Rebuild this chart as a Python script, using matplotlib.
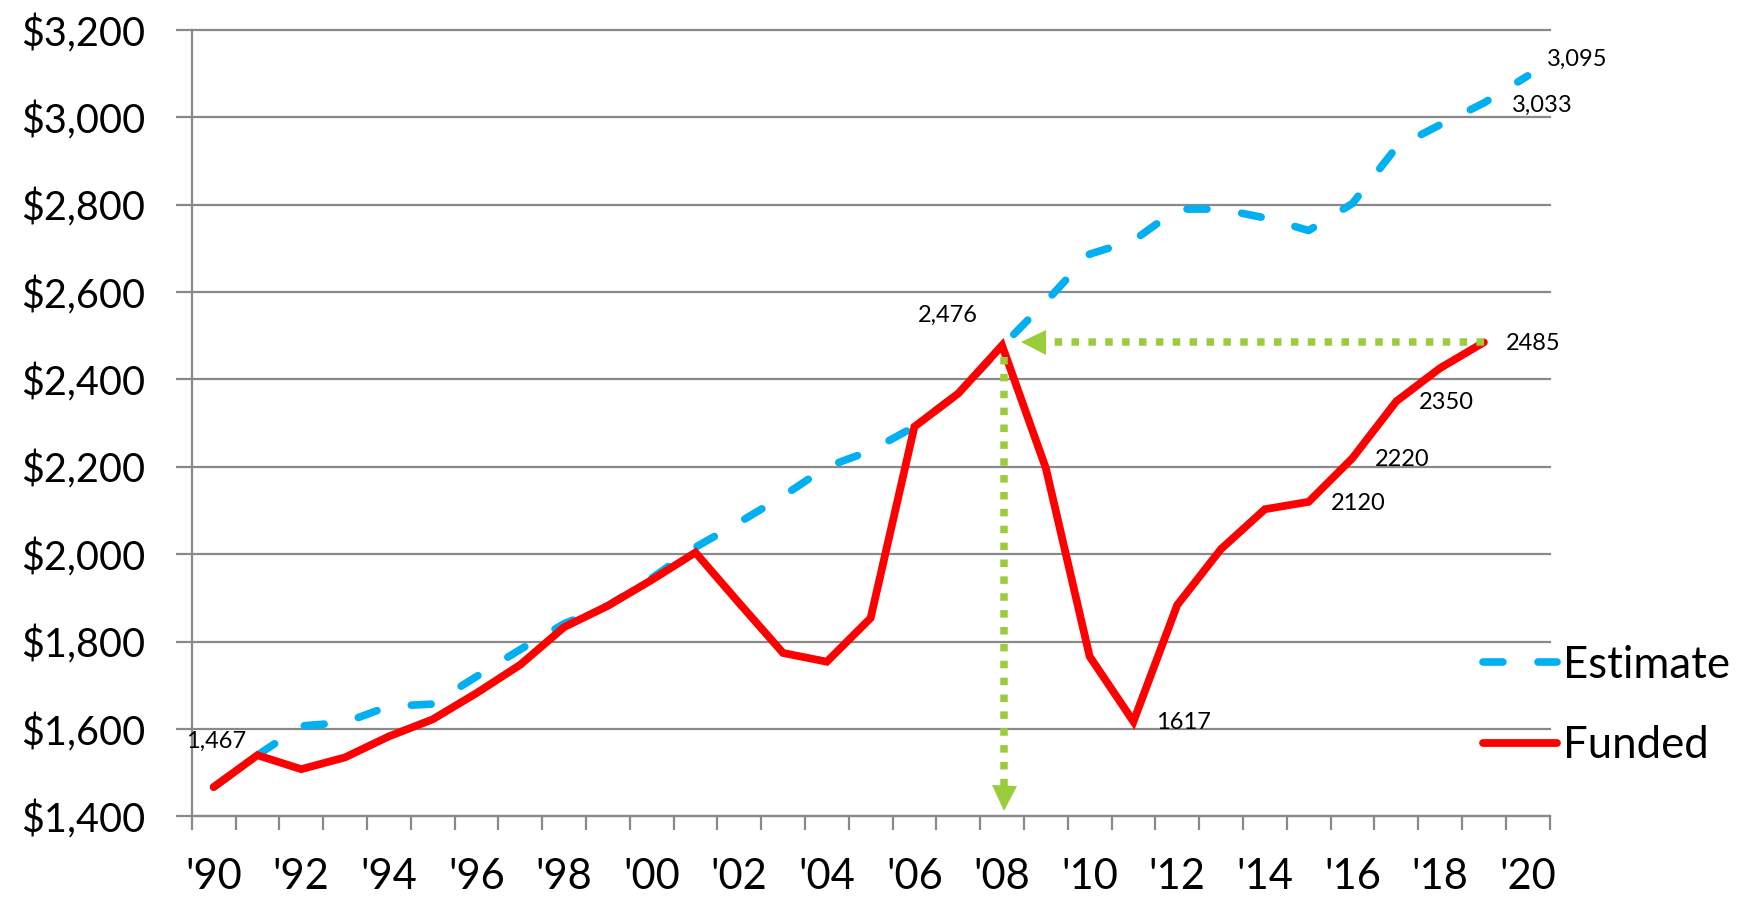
import matplotlib
matplotlib.use('Agg')
import matplotlib.pyplot as plt
from matplotlib.ticker import FuncFormatter
from matplotlib.transforms import offset_copy

plt.rcParams['font.family'] = ['Lato', 'DejaVu Sans']

# data
years = list(range(1990, 2021))
estimate = [1467, 1540, 1607, 1615, 1652, 1657, 1720, 1782, 1841, 1882,
            1945, 2016, 2073, 2133, 2200, 2237, 2292, 2368, 2476, 2578,
            2687, 2718, 2790, 2790, 2770, 2741, 2803, 2931, 2983, 3033, 3095]
funded = [1467, 1540, 1508, 1535, 1583, 1622, 1682, 1747, 1833, 1882,
          1941, 2004, 1888, 1774, 1754, 1854, 2292, 2368, 2478, 2197,
          1766, 1617, 1884, 2012, 2103, 2120, 2220, 2350, 2426, 2485]
funded_years = years[:len(funded)]

estimate_label_years = [1990, 2008, 2019, 2020]
funded_label_years = [2011, 2015, 2016, 2017, 2019]

blue = '#00B0F0'
red = '#FF0000'
green = '#9ACC3C'
gray = '#898989'

fig = plt.figure(figsize=(17.46, 8.98), dpi=100)
ax = fig.add_axes([0.1098, 0.0909, 0.7777, 0.8757])

ax.plot(years, estimate, color=blue, lw=5.5, dashes=(2.6, 4.6),
        dash_capstyle='round', solid_capstyle='round', label='Estimate', zorder=3)
ax.plot(funded_years, funded, color=red, lw=5.6, solid_joinstyle='miter',
        solid_capstyle='round', label='Funded', zorder=4)

# green dotted arrows around the 2008 peak
i08 = years.index(2008)
peak_x = years[i08]
h_y = funded[-1]
h_tip = peak_x + 0.42
head = 18
ax.plot([funded_years[-1], h_tip + 0.4], [h_y, h_y], color=green, lw=5.4,
        dashes=(1, 1.25), dash_capstyle='butt', zorder=5)
ax.plot([h_tip], [h_y], marker='<', ms=head, mew=0, color=green, ls='none', zorder=5,
        transform=offset_copy(ax.transData, fig=fig, x=head / 2, units='points'))

v_x = peak_x + 0.05
v_tip = 1413
ax.plot([v_x, v_x], [2452, v_tip + 40], color=green, lw=5.4,
        dashes=(1, 1.25), dash_capstyle='butt', zorder=5)
ax.plot([v_x], [v_tip], marker='v', ms=head, mew=0, color=green, ls='none', zorder=5,
        transform=offset_copy(ax.transData, fig=fig, y=head / 2, units='points'))

# data labels
est_offsets = {1990: (1.8, 32.8, 'center'), 2008: (-38.7, 22.5, 'center'),
               2019: (20, -1.5, 'left'), 2020: (14, 12, 'left')}
for yr in estimate_label_years:
    v = estimate[years.index(yr)]
    dx, dy, ha = est_offsets[yr]
    ax.annotate(f'{v:,}', (yr, v), xytext=(dx, dy), textcoords='offset points',
                ha=ha, va='center', fontsize=17, zorder=6, annotation_clip=False)
for yr in funded_label_years:
    v = funded[funded_years.index(yr)]
    ax.annotate(str(v), (yr, v), xytext=(16, -1), textcoords='offset points',
                ha='left', va='center', fontsize=17, zorder=6, annotation_clip=False)

ax.set_xlim(1989.5, 2020.5)
ax.set_ylim(1400, 3200)

# category-style x axis: tick marks between years, labels every other year
ax.set_xticks([y - 0.5 for y in years] + [years[-1] + 0.5])
ax.set_xticklabels([])
ax.set_xticks(years[::2], minor=True)
ax.set_xticklabels(["'" + str(y)[2:] for y in years[::2]], minor=True, fontsize=30)
ax.tick_params(axis='x', which='major', direction='out', length=10, width=1.6, color=gray)
ax.tick_params(axis='x', which='minor', length=0, pad=30)

ax.set_yticks(range(1400, 3201, 200))
ax.yaxis.set_major_formatter(FuncFormatter(lambda v, p: f'${v:,.0f}'))
ax.tick_params(axis='y', direction='out', length=11.3, width=1.6, color=gray,
               labelsize=28.5, pad=22)

ax.grid(axis='y', color=gray, lw=1.6)
for gl in ax.get_ygridlines():
    gl.set_clip_on(False)
ax.set_axisbelow(True)
for s in ['top', 'right']:
    ax.spines[s].set_visible(False)
for s in ['left', 'bottom']:
    ax.spines[s].set_color(gray)
    ax.spines[s].set_linewidth(1.6)

fig.legend(loc='center left', bbox_to_anchor=(0.8494, 0.2144), frameon=False,
           fontsize=31.5, handlelength=1.69, handletextpad=0.14, labelspacing=0.9,
           borderpad=0, borderaxespad=0)

fig.savefig('out.png', dpi=100)
